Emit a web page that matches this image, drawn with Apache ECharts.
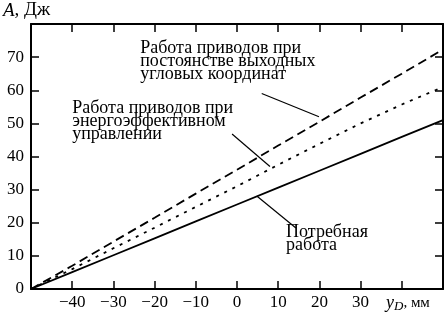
<!DOCTYPE html>
<html>
<head>
<meta charset="utf-8">
<script src="https://cdn.jsdelivr.net/npm/echarts@6/dist/echarts.min.js"></script>
<style>
  html, body { margin: 0; padding: 0; background: #fff; }
  #main { width: 446px; height: 314px; }
</style>
</head>
<body>
<div id="main"></div>
<script>
// перемещение y_D, мм
var xValues = [-50, -40, -30, -20, -10, 0, 10, 20, 30, 40, 50];
// потребная работа
var required = [0, 5.1, 10.2, 15.3, 20.4, 25.5, 30.6, 35.7, 40.8, 45.9, 51];
// работа при постоянстве выходных угловых координат
var constantAngles = [0, 7, 14.3, 21.5, 28.8, 36, 43.3, 50.5, 57.8, 65, 72.3];
// работа при энергоэффективном управлении
var efficient = [0, 6, 12.3, 18.5, 24.8, 31, 37.5, 43.8, 50, 55.7, 61];
var xLabels = [-40, -30, -20, -10, 0, 10, 20, 30];
var yLabels = [0, 10, 20, 30, 40, 50, 60, 70];

var FONT = '"Liberation Serif", "DejaVu Serif", serif';

function pairs(ys) {
  return xValues.map(function (x, i) { return [x, ys[i]]; });
}

var axisLine = { show: true, onZero: false, lineStyle: { color: '#000', width: 2 } };
var tick = { show: true, inside: true, length: 8, lineStyle: { color: '#000', width: 1.5 } };

var myChart = echarts.init(document.getElementById('main'));
myChart.setOption({
  animation: false,
  grid: { left: 31, right: 3, top: 24, bottom: 25 },
  xAxis: [{
    type: 'value', min: -50, max: 50, interval: 10,
    axisLine: axisLine, axisTick: tick, splitLine: { show: false },
    axisLabel: {
      color: '#000', fontFamily: FONT, fontSize: 17, margin: 5,
      formatter: function (v) {
        if (xLabels.indexOf(v) < 0) return '';
        return v < 0 ? '\u2212' + Math.abs(v) : String(v);
      }
    }
  }, {
    type: 'value', min: -50, max: 50, interval: 10, position: 'top',
    axisLine: axisLine, axisTick: tick, splitLine: { show: false },
    axisLabel: { show: false }
  }],
  yAxis: [{
    type: 'value', min: 0, max: 80, interval: 10,
    axisLine: axisLine, axisTick: tick, splitLine: { show: false },
    axisLabel: {
      color: '#000', fontFamily: FONT, fontSize: 17, margin: 7,
      formatter: function (v) { return yLabels.indexOf(v) < 0 ? '' : String(v); }
    }
  }, {
    type: 'value', min: 0, max: 80, interval: 10, position: 'right',
    axisLine: axisLine, axisTick: tick, splitLine: { show: false },
    axisLabel: { show: false }
  }],
  series: [{
    name: 'Потребная работа', type: 'line', data: pairs(required),
    symbol: 'none', lineStyle: { color: '#000', width: 1.8 }
  }, {
    name: 'Работа приводов при постоянстве выходных угловых координат', type: 'line',
    data: pairs(constantAngles), symbol: 'none',
    lineStyle: { color: '#000', width: 1.8, type: [9, 5] }
  }, {
    name: 'Работа приводов при энергоэффективном управлении', type: 'line',
    data: pairs(efficient), symbol: 'none',
    lineStyle: { color: '#000', width: 1.8, type: [3, 6] }
  }]
});

// подписи и выноски
function px(p) { return myChart.convertToPixel({ gridIndex: 0 }, p); }

var notes = [
  { text: 'Работа приводов при\nпостоянстве выходных\nугловых координат', at: [-23.5, 74.5], from: [6, 59], to: [19.9, 52] },
  { text: 'Работа приводов при\nэнергоэффективном\nуправлении', at: [-40, 56.5], from: [-1.2, 46.8], to: [8, 37] },
  { text: 'Потребная\nработа', at: [11.9, 19], from: [4.8, 28.1], to: [14.3, 18.4] }
];

var graphics = [];
notes.forEach(function (n) {
  var a = px(n.at), f = px(n.from), t = px(n.to);
  graphics.push({
    type: 'text', x: a[0], y: a[1],
    style: { text: n.text, fill: '#000', font: '18px ' + FONT, lineHeight: 13, textVerticalAlign: 'top' }
  });
  graphics.push({
    type: 'line', shape: { x1: f[0], y1: f[1], x2: t[0], y2: t[1] },
    style: { stroke: '#000', lineWidth: 1.2 }
  });
});

graphics.push({
  type: 'text', x: 3, y: 1,
  style: {
    text: '{i|А}{r|, Дж}',
    rich: {
      i: { fontFamily: FONT, fontSize: 19, fontStyle: 'italic', fill: '#000' },
      r: { fontFamily: FONT, fontSize: 19, fill: '#000' }
    }
  }
});
graphics.push({
  type: 'text', x: 386, y: 293,
  style: {
    text: '{i|y}{s|D}{r|, мм}',
    rich: {
      i: { fontFamily: FONT, fontSize: 18, fontStyle: 'italic', fill: '#000' },
      s: { fontFamily: FONT, fontSize: 13, fontStyle: 'italic', fill: '#000', padding: [7, 0, 0, 0] },
      r: { fontFamily: FONT, fontSize: 15, fill: '#000' }
    }
  }
});

myChart.setOption({ graphic: graphics });
</script>
</body>
</html>
